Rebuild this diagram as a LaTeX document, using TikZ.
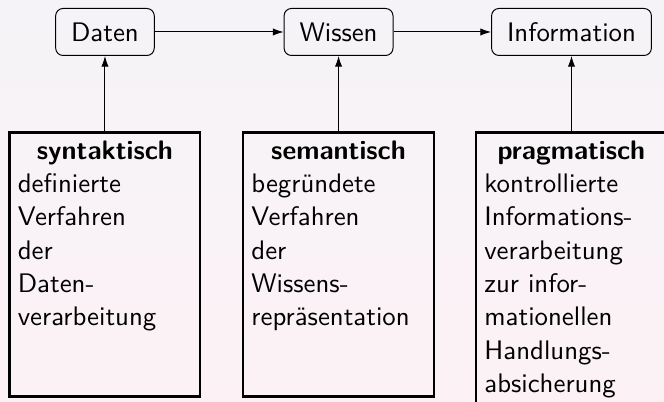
\documentclass[tikz,border=0pt]{standalone}
\usetikzlibrary{positioning,arrows.meta}

\definecolor{bgoben}{RGB}{245,243,247}
\definecolor{bgunten}{RGB}{252,242,245}

\newcommand{\titel}[1]{\makebox[\linewidth]{\bfseries #1}\\}

\begin{document}
\begin{tikzpicture}[
    >={Latex[length=4.4pt,width=3pt]},
    font=\sffamily\fontsize{10.95}{13.6}\selectfont,
    stufe/.style={draw, rounded corners=3pt, minimum height=0.674cm, inner xsep=6.3pt},
    ebene/.style={draw, line width=1pt, text width=2.5cm, align=left, anchor=north}
]
    \useasboundingbox (0,0) rectangle (9.526,5.767);
    \shade[top color=bgoben, bottom color=bgunten] (0,0) rectangle (9.526,5.767);
    \clip (0,0) rectangle (9.526,5.767);

    % obere Reihe
    \node[stufe] (daten) at (1.506,5.308) {Daten};
    \node[stufe] (wissen) at (4.857,5.308) {Wissen};
    \node[stufe] (info) at (8.199,5.308) {Information};

    \draw[->] (daten) -- (wissen);
    \draw[->] (wissen) -- (info);

    % untere Reihe
    \node[ebene, text depth=93.5pt] (syn) at (1.506,3.885) {\titel{syntaktisch}
        definierte\\ Verfahren\\ der\\ Daten-\\ verarbeitung};
    \node[ebene, text depth=93.5pt] (sem) at (4.857,3.885) {\titel{semantisch}
        begründete\\ Verfahren\\ der\\ Wissens-\\ repräsentation};
    \node[ebene] (prag) at (8.199,3.885) {\titel{pragmatisch}
        kontrollierte\\ Informations-\\ verarbeitung\\ zur infor-\\ mationellen\\ Handlungs-\\ absicherung};

    \draw[->] (syn) -- (daten);
    \draw[->] (sem) -- (wissen);
    \draw[->] (prag) -- (info);
\end{tikzpicture}
\end{document}
